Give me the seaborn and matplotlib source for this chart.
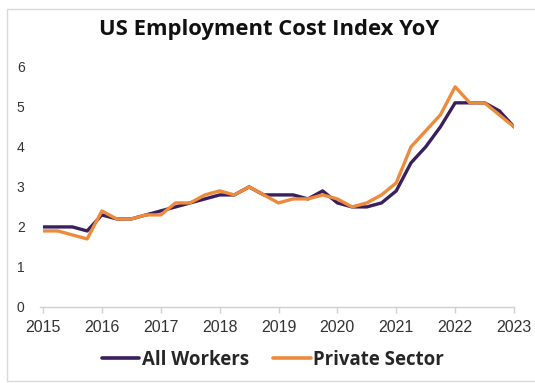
import matplotlib
matplotlib.use("Agg")
import matplotlib.pyplot as plt
import matplotlib.patches as mpatches
import numpy as np
import pandas as pd
import seaborn as sns

# Quarterly year-over-year change in the Employment Cost Index (%)
quarters = [2015 + i / 4 for i in range(33)]
all_workers = [2.0, 2.0, 2.0, 1.9, 2.3, 2.2, 2.2, 2.3,
               2.4, 2.5, 2.6, 2.7, 2.8, 2.8, 3.0, 2.8,
               2.8, 2.8, 2.7, 2.9, 2.6, 2.5, 2.5, 2.6,
               2.9, 3.6, 4.0, 4.5, 5.1, 5.1, 5.1, 4.9,
               4.5]
private_sector = [1.9, 1.9, 1.8, 1.7, 2.4, 2.2, 2.2, 2.3,
                  2.3, 2.6, 2.6, 2.8, 2.9, 2.8, 3.0, 2.8,
                  2.6, 2.7, 2.7, 2.8, 2.7, 2.5, 2.6, 2.8,
                  3.1, 4.0, 4.4, 4.8, 5.5, 5.1, 5.1, 4.8,
                  4.5]
series_names = ["All Workers", "Private Sector"]
series_colors = ["#3a1f5d", "#ee8a3c"]
year_ticks = list(range(2015, 2024))
y_ticks = [0, 1, 2, 3, 4, 5, 6]

df = pd.DataFrame({
    "quarter": quarters * 2,
    "value": all_workers + private_sector,
    "series": [series_names[0]] * len(quarters) + [series_names[1]] * len(quarters),
})

sns.set_theme(style="white")
plt.rcParams["font.family"] = ["Liberation Sans", "DejaVu Sans"]

fig = plt.figure(figsize=(5.35, 3.83), dpi=100)
ax = fig.add_axes([43 / 535, 1 - 307 / 383, (514 - 43) / 535, (307 - 60) / 383])

sns.lineplot(data=df, x="quarter", y="value", hue="series",
             palette=dict(zip(series_names, series_colors)),
             linewidth=2.4, ax=ax, legend=False)

ax.set_xlim(2015, 2023)
ax.set_ylim(0, 6.17)
ax.set_xticks(year_ticks)
ax.set_xticklabels([str(y) for y in year_ticks], fontsize=11.5, color="#333333")
ax.set_yticks(y_ticks)
ax.set_yticklabels([str(y) for y in y_ticks], fontsize=10, color="#333333")
ax.set_xlabel("")
ax.set_ylabel("")

for side in ["top", "right", "left"]:
    ax.spines[side].set_visible(False)
ax.spines["bottom"].set_color("#d0d0d0")
ax.spines["bottom"].set_linewidth(1.0)
ax.spines["bottom"].set_bounds(2014.95, 2023)
ax.tick_params(axis="x", length=4, width=1.0, color="#d0d0d0", pad=5, bottom=True)
ax.tick_params(axis="y", length=0, pad=16)
for lbl in ax.get_yticklabels():
    lbl.set_horizontalalignment("center")

fig.text(269 / 535, 1 - 29 / 383, "US Employment Cost Index YoY",
         ha="center", va="center", fontsize=15.8, fontweight="bold",
         family=["Open Sans", "DejaVu Sans"], color="#111111")

handles = [plt.Line2D([], [], color=c, linewidth=2.6) for c in series_colors]
fig.legend(handles, series_names, loc="center", bbox_to_anchor=(273 / 535, 1 - 360 / 383),
           ncol=2, frameon=False, handlelength=2.0, handletextpad=0.15,
           columnspacing=1.3, prop={"family": ["Open Sans", "DejaVu Sans"],
                                    "weight": "bold", "size": 13.4})

# light frame around the chart area
fig.patches.append(mpatches.Rectangle((7 / 535, 1 - 381 / 383), 540 / 535, (381 - 9) / 383,
                                      transform=fig.transFigure, fill=False,
                                      edgecolor="#d9d9d9", linewidth=1.0))

fig.savefig("out.png", dpi=100, facecolor="white")
